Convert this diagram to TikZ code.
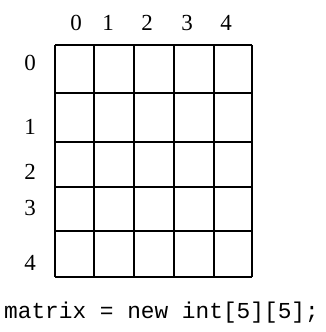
\documentclass[tikz,border=0pt]{standalone}
\usepackage{fontspec}
\setmainfont{Liberation Serif}
\setmonofont{Liberation Mono}
\begin{document}
\begin{tikzpicture}[x=1pt,y=-1pt,
  gridline/.style={line width=1.8pt, black},
  idx/.style={font=\fontsize{23}{23}\selectfont, inner sep=0pt, anchor=center},
  code/.style={font=\ttfamily\fontsize{22.8}{22.8}\selectfont, inner sep=0pt, anchor=center}]
\useasboundingbox (0,0) rectangle (326,332);
% grid
\foreach \x in {55,94,134,174,214,252} \draw[gridline] (\x,45) -- (\x,277);
\foreach \y in {45,93,142,187,231,277} \draw[gridline] (55,\y) -- (252,\y);
% column labels
\node[idx] (c0) at (76,23) {0};
\node[idx] (c1) at (108,23) {1};
\node[idx] (c2) at (147,23) {2};
\node[idx] (c3) at (187,23) {3};
\node[idx] (c4) at (226,23) {4};
% row labels
\node[idx] (r0) at (30,63) {0};
\node[idx] (r1) at (30,127) {1};
\node[idx] (r2) at (30,172) {2};
\node[idx] (r3) at (30,208) {3};
\node[idx] (r4) at (30,263) {4};
\node[code] (stmt) at (161.5,313) {matrix = new int[5][5];};
\end{tikzpicture}
\end{document}
